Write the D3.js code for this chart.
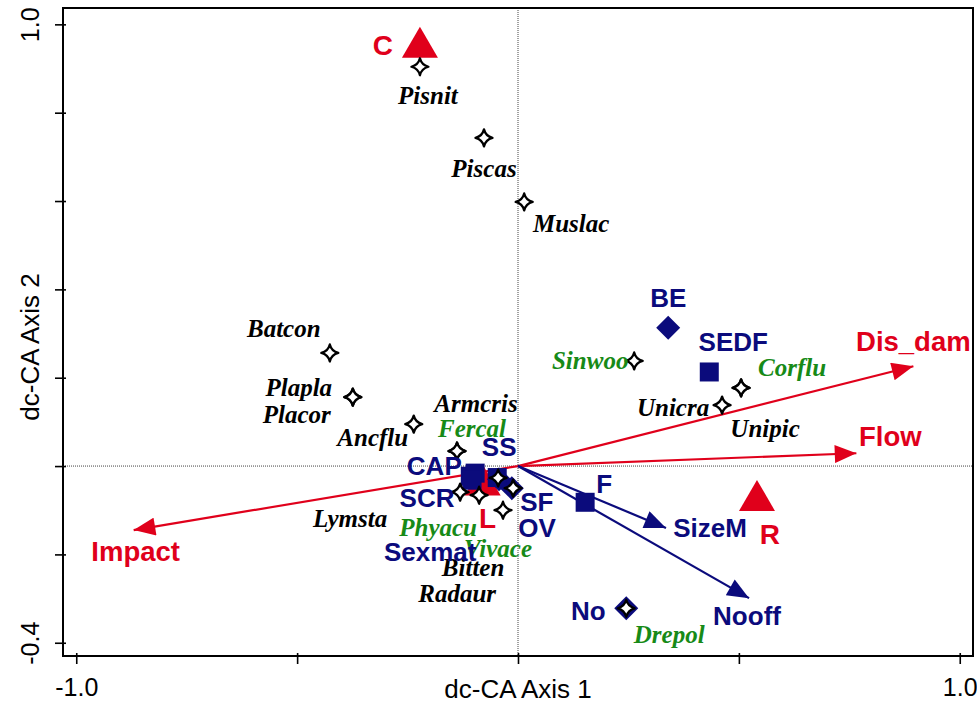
<!DOCTYPE html>
<html>
<head>
<meta charset="utf-8">
<script src="https://cdn.jsdelivr.net/npm/d3@7"></script>
<style>
  html, body { margin: 0; padding: 0; background: #fff; }
  svg { display: block; }
</style>
</head>
<body>
<svg id="chart" width="977" height="705"></svg>
<script>
// dc-CA ordination biplot: species, trait categories/vectors, environmental centroids/vectors

// species scores (axis 1, axis 2); group "b" species are drawn in green
const speciesNames = ["Pisnit","Piscas","Muslac","Batcon","Plapla","Placor","Ancflu","Armcris","Fercal",
  "Lymsta","Phyacu","Vivace","Bitten","Radaur","Sinwoo","Corflu","Unicra","Unipic","Drepol"];
const speciesAx1 = [-0.222,-0.077,0.014,-0.426,-0.374,-0.374,-0.236,-0.138,-0.138,
  -0.131,-0.088,-0.034,-0.045,-0.011,0.263,0.505,0.462,0.505,0.245];
const speciesAx2 = [0.904,0.743,0.598,0.256,0.156,0.156,0.095,0.034,0.034,
  -0.059,-0.066,-0.100,-0.027,-0.050,0.238,0.177,0.138,0.177,-0.322];
const speciesGroup = ["a","a","a","a","a","a","a","a","b",
  "a","b","b","a","a","b","b","a","a","b"];

// trait category centroids
const traitCatNames = ["BE","SEDF","F","No","CAP","SS","SCR","OV","SF","Sexmat"];
const traitCatAx1 = [0.340,0.433,0.152,0.245,-0.108,-0.097,-0.104,-0.043,-0.014,-0.047];
const traitCatAx2 = [0.313,0.213,-0.082,-0.322,-0.023,-0.016,-0.032,-0.030,-0.050,-0.026];
const traitCatShape = ["diamond","square","square","diamond","square","square","square","diamond","diamond","square"];

// quantitative trait vectors
const traitVecNames = ["SizeM","Nooff"];
const traitVecAx1 = [0.335,0.523];
const traitVecAx2 = [-0.140,-0.299];

// environmental class centroids
const envCatNames = ["C","R","L"];
const envCatAx1 = [-0.222,0.541,-0.080];
const envCatAx2 = [0.956,-0.070,-0.035];

// environmental vectors
const envVecNames = ["Dis_dam","Flow","Impact"];
const envVecAx1 = [0.895,0.766,-0.870];
const envVecAx2 = [0.226,0.029,-0.145];

// axis ticks
const xTicks = [-1.0,-0.5,0,0.5,1.0];
const xTickLabels = ["-1.0","","","","1.0"];
const yTicks = [-0.4,-0.2,0,0.2,0.4,0.6,0.8,1.0];
const yTickLabels = ["-0.4","","","","","","","1.0"];

const RED = "#e0001b", NAVY = "#0b0b7c", GREEN = "#178a17", BLACK = "#000";
const SANS = "'Liberation Sans',Arial,sans-serif";
const SERIF = "'Liberation Serif','Times New Roman',serif";

const svg = d3.select("#chart");
const box = {left: 63, right: 973, top: 8, bottom: 656};
const x = d3.scaleLinear().domain([-1.03, 1.03]).range([box.left, box.right]);
const y = d3.scaleLinear().domain([-0.43, 1.037]).range([box.bottom, box.top]);

// label placement (pixel offsets from the mark)
const off = {
  Pisnit:[8,29], Piscas:[0,31], Muslac:[47,22], Batcon:[-46,-24], Plapla:[-54,-10], Placor:[-56,17],
  Ancflu:[-41,13], Armcris:[19,-48], Fercal:[15,-23], Lymsta:[-110,26], Phyacu:[-41,32],
  Vivace:[-5,38], Bitten:[-25,90], Radaur:[-56,105], Sinwoo:[-44,0], Corflu:[51,-20],
  Unicra:[-49,2], Unipic:[24,41], Drepol:[43,26],
  BE:[0,-30], SEDF:[24,-30], F:[19,-18], No:[-38,3], CAP:[-36,-10], SS:[24,-26], SCR:[-45,18],
  OV:[38,49], SF:[25,14], Sexmat:[-67,74],
  SizeM:[44,0], Nooff:[-2,18],
  C:[-37,2], R:[13,38], L:[5,37],
  Dis_dam:[0,-25], Flow:[34,-17], Impact:[2,21]
};

// zero reference lines
svg.append("line").attr("x1", x(0)).attr("x2", x(0)).attr("y1", box.top).attr("y2", box.bottom)
  .attr("stroke", "#444").attr("stroke-width", 1).attr("stroke-dasharray", "1,1");
svg.append("line").attr("x1", box.left).attr("x2", box.right).attr("y1", y(0)).attr("y2", y(0))
  .attr("stroke", "#444").attr("stroke-width", 1).attr("stroke-dasharray", "1,1");

// arrowheads
const defs = svg.append("defs");
[["headRed", RED], ["headNavy", NAVY]].forEach(([id, c]) => {
  defs.append("marker").attr("id", id).attr("viewBox", "0 -5 12 10").attr("refX", 12).attr("refY", 0)
    .attr("markerWidth", 23).attr("markerHeight", 18).attr("markerUnits", "userSpaceOnUse")
    .attr("orient", "auto")
    .append("path").attr("d", "M0,-5L12,0L0,5Z").attr("fill", c);
});

function vectors(names, a1, a2, color, head) {
  svg.append("g").selectAll("line").data(names).join("line")
    .attr("x1", x(0)).attr("y1", y(0))
    .attr("x2", (d, i) => x(a1[i])).attr("y2", (d, i) => y(a2[i]))
    .attr("stroke", color).attr("stroke-width", 2.2)
    .attr("marker-end", `url(#${head})`);
}
vectors(envVecNames, envVecAx1, envVecAx2, RED, "headRed");
vectors(traitVecNames, traitVecAx1, traitVecAx2, NAVY, "headNavy");

// environmental centroids: red triangles
svg.append("g").selectAll("path").data(envCatNames).join("path")
  .attr("transform", (d, i) => `translate(${x(envCatAx1[i])},${y(envCatAx2[i])})`)
  .attr("d", "M0,-17L18,14L-18,14Z").attr("fill", RED);

// trait categories: navy squares / diamonds
svg.append("g").selectAll("path").data(traitCatNames).join("path")
  .attr("transform", (d, i) => `translate(${x(traitCatAx1[i])},${y(traitCatAx2[i])})`)
  .attr("d", (d, i) => traitCatShape[i] === "square" ? "M-9.5,-9.5H9.5V9.5H-9.5Z" : "M0,-12L12,0L0,12L-12,0Z")
  .attr("fill", NAVY);

// species: four-point star outline
const star = "M0,-8.5Q1.7,-1.7 8.5,0Q1.7,1.7 0,8.5Q-1.7,1.7 -8.5,0Q-1.7,-1.7 0,-8.5Z";
svg.append("g").selectAll("path").data(speciesNames).join("path")
  .attr("transform", (d, i) => `translate(${x(speciesAx1[i])},${y(speciesAx2[i])})`)
  .attr("d", star).attr("fill", "#fff").attr("stroke", BLACK).attr("stroke-width", 2.3)
  .attr("stroke-linejoin", "round");

// labels
function labels(names, a1, a2, colorFn, font) {
  svg.append("g").selectAll("text").data(names).join("text")
    .attr("x", (d, i) => x(a1[i]) + off[d][0])
    .attr("y", (d, i) => y(a2[i]) + off[d][1])
    .attr("text-anchor", "middle").attr("dominant-baseline", "central")
    .attr("fill", colorFn).attr("font-family", font.family).attr("font-size", font.size)
    .attr("font-weight", "bold").attr("font-style", font.style || "normal")
    .text(d => d);
}
labels(speciesNames, speciesAx1, speciesAx2, (d, i) => speciesGroup[i] === "b" ? GREEN : BLACK,
  {family: SERIF, size: 25, style: "italic"});
labels(traitCatNames, traitCatAx1, traitCatAx2, NAVY, {family: SANS, size: 26});
labels(traitVecNames, traitVecAx1, traitVecAx2, NAVY, {family: SANS, size: 26});
labels(envCatNames, envCatAx1, envCatAx2, RED, {family: SANS, size: 28});
labels(envVecNames, envVecAx1, envVecAx2, RED, {family: SANS, size: 27.5});

// frame
svg.append("rect").attr("x", box.left).attr("y", box.top)
  .attr("width", box.right - box.left).attr("height", box.bottom - box.top)
  .attr("fill", "none").attr("stroke", BLACK).attr("stroke-width", 2);

// axes
const xAxis = svg.append("g").attr("transform", `translate(0,${box.bottom})`)
  .call(d3.axisBottom(x).tickValues(xTicks).tickSize(8).tickPadding(14)
    .tickFormat((d, i) => xTickLabels[i]));
const yAxis = svg.append("g").attr("transform", `translate(${box.left},0)`)
  .call(d3.axisLeft(y).tickValues(yTicks).tickSize(8)
    .tickFormat((d, i) => yTickLabels[i]));
[xAxis, yAxis].forEach(g => {
  g.select(".domain").remove();
  g.selectAll(".tick line").attr("stroke", BLACK).attr("stroke-width", 1.6);
  g.selectAll(".tick text").attr("font-family", SANS).attr("font-size", 25).attr("fill", BLACK);
});
xAxis.selectAll(".tick line").attr("y1", -3);
yAxis.selectAll(".tick line").attr("x1", 3);
yAxis.selectAll(".tick text")
  .attr("text-anchor", "middle").attr("dominant-baseline", "central")
  .attr("dy", null).attr("x", 0).attr("y", 0)
  .attr("transform", `translate(${30 - box.left},0) rotate(-90)`);

// axis titles
svg.append("text").attr("x", x(0)).attr("y", 698).attr("text-anchor", "middle")
  .attr("font-family", SANS).attr("font-size", 26).text("dc-CA Axis 1");
svg.append("text").attr("transform", `translate(30,347) rotate(-90)`)
  .attr("text-anchor", "middle").attr("dominant-baseline", "central")
  .attr("font-family", SANS).attr("font-size", 26).text("dc-CA Axis 2");
</script>
</body>
</html>
